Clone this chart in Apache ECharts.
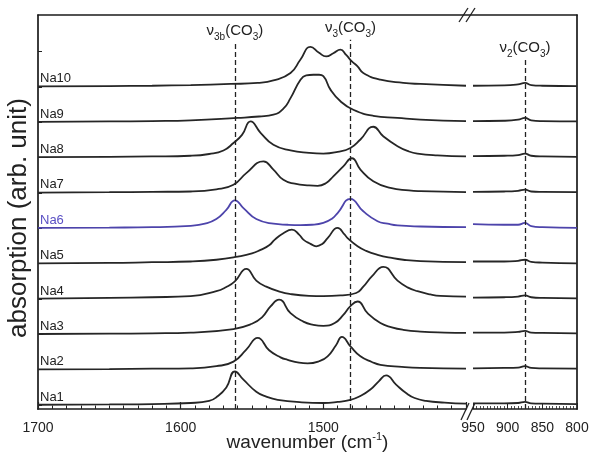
<!DOCTYPE html>
<html>
<head>
    <meta charset="UTF-8">
    <title>CO3 bands Na1-Na10</title>
    <script src="https://cdn.jsdelivr.net/npm/echarts@6.0.0/dist/echarts.min.js"></script>
</head>
<body style="margin:0;background:#fff;">
    <div id="main" style="width:592px;height:462px;"></div>
</body>
<script>
// sample names, bottom to top
var names = ['Na1','Na2','Na3','Na4','Na5','Na6','Na7','Na8','Na9','Na10'];

// left part of the axis: [wavenumber, absorption above its own baseline]
var na1 = [[1700,0.01],[1650,0.02],[1620,0.03],[1593,0.06],[1580,0.12],[1575,0.22],[1568,0.5],[1562,0.95],[1556,0.72],[1547,0.38],[1540,0.24],[1532,0.15],[1515,0.08],[1500,0.06],[1490,0.09],[1481,0.15],[1474,0.26],[1467,0.44],[1461,0.68],[1456,0.84],[1449,0.58],[1442,0.34],[1436,0.2],[1428,0.12],[1415,0.07],[1400,0.04]];
var na2 = [[1700,0.01],[1650,0.02],[1620,0.03],[1593,0.04],[1575,0.1],[1563,0.23],[1554,0.57],[1546,0.9],[1538,0.55],[1530,0.35],[1525,0.28],[1517,0.2],[1511,0.18],[1503,0.24],[1497,0.38],[1491,0.7],[1487,0.93],[1481,0.66],[1474,0.38],[1466,0.22],[1460,0.14],[1445,0.08],[1432,0.05],[1400,0.03]];
var na3 = [[1700,0.01],[1650,0.02],[1620,0.03],[1593,0.05],[1563,0.15],[1550,0.3],[1543,0.48],[1537,0.79],[1531,0.98],[1523,0.6],[1514,0.36],[1507,0.27],[1500,0.24],[1492,0.32],[1486,0.55],[1481,0.8],[1476,0.93],[1469,0.6],[1460,0.32],[1452,0.2],[1444,0.13],[1432,0.08],[1415,0.05],[1400,0.04]];
var na4 = [[1700,0.01],[1650,0.03],[1620,0.05],[1593,0.08],[1575,0.22],[1568,0.34],[1562,0.5],[1554,0.85],[1547,0.52],[1540,0.35],[1530,0.2],[1523,0.14],[1510,0.09],[1500,0.08],[1488,0.1],[1477,0.17],[1472,0.35],[1466,0.64],[1458,0.91],[1448,0.52],[1441,0.33],[1434,0.22],[1425,0.13],[1418,0.09],[1400,0.07]];
var na5 = [[1700,0.01],[1650,0.02],[1620,0.04],[1593,0.06],[1575,0.11],[1560,0.2],[1550,0.29],[1544,0.39],[1538,0.52],[1534,0.68],[1528,0.86],[1522,0.96],[1517,0.82],[1514,0.68],[1509,0.56],[1505,0.49],[1501,0.55],[1497,0.72],[1490,1.01],[1485,0.82],[1483,0.72],[1476,0.49],[1470,0.36],[1462,0.25],[1452,0.16],[1444,0.11],[1432,0.07],[1400,0.04]];
var na6 = [[1700,0.01],[1650,0.02],[1620,0.03],[1593,0.07],[1583,0.13],[1575,0.26],[1568,0.52],[1562,0.79],[1556,0.57],[1547,0.26],[1535,0.13],[1525,0.1],[1516,0.09],[1508,0.1],[1500,0.15],[1494,0.27],[1490,0.43],[1481,0.83],[1472,0.48],[1462,0.2],[1455,0.13],[1448,0.08],[1432,0.05],[1400,0.03]];
var na7 = [[1700,0.01],[1650,0.02],[1620,0.03],[1593,0.04],[1575,0.1],[1563,0.23],[1554,0.56],[1542,0.89],[1535,0.66],[1528,0.37],[1520,0.26],[1510,0.21],[1504,0.2],[1498,0.28],[1493,0.47],[1486,0.75],[1480,0.98],[1474,0.66],[1465,0.33],[1453,0.14],[1440,0.07],[1432,0.05],[1400,0.02]];
var na8 = [[1700,0.01],[1650,0.02],[1620,0.03],[1593,0.05],[1580,0.1],[1570,0.2],[1563,0.41],[1557,0.64],[1551,1.02],[1544,0.7],[1535,0.36],[1523,0.2],[1510,0.13],[1500,0.11],[1490,0.16],[1481,0.27],[1474,0.51],[1465,0.87],[1458,0.6],[1448,0.32],[1440,0.17],[1434,0.11],[1420,0.06],[1400,0.03]];
var na9 = [[1700,0.01],[1650,0.02],[1620,0.03],[1593,0.05],[1560,0.12],[1545,0.16],[1535,0.21],[1528,0.38],[1523,0.68],[1516,1.2],[1512,1.32],[1507,1.34],[1503,1.34],[1500,1.3],[1495,0.92],[1488,0.59],[1479,0.35],[1465,0.18],[1448,0.12],[1432,0.07],[1400,0.03]];
var na10 = [[1700,0.01],[1650,0.02],[1620,0.03],[1593,0.05],[1565,0.08],[1546,0.11],[1535,0.18],[1523,0.39],[1516,0.77],[1509,1.13],[1503,0.96],[1498,0.86],[1493,0.95],[1488,1.05],[1484,0.9],[1480,0.72],[1476,0.58],[1472,0.39],[1460,0.2],[1444,0.11],[1432,0.08],[1400,0.03]];

// right part of the axis (950-800), nu2 region
var na1R = [[950,0.05],[905,0.05],[885,0.06],[875,0.09],[866,0.05],[850,0.04],[800,0.03]];
var na2R = [[950,0.04],[905,0.05],[885,0.06],[875,0.1],[866,0.05],[850,0.04],[800,0.03]];
var na3R = [[950,0.05],[905,0.05],[885,0.07],[875,0.1],[866,0.05],[850,0.04],[800,0.03]];
var na4R = [[950,0.04],[905,0.05],[885,0.07],[875,0.1],[866,0.05],[850,0.03],[800,0.02]];
var na5R = [[950,0.06],[905,0.06],[885,0.08],[875,0.11],[866,0.05],[850,0.03],[800,0.01]];
var na6R = [[950,0.12],[905,0.1],[885,0.1],[875,0.15],[866,0.06],[850,0.03],[800,0.01]];
var na7R = [[950,0.03],[905,0.04],[885,0.06],[875,0.09],[866,0.04],[850,0.03],[800,0.02]];
var na8R = [[950,0.04],[905,0.05],[885,0.07],[875,0.11],[866,0.05],[850,0.03],[800,0.02]];
var na9R = [[950,0.03],[905,0.04],[885,0.07],[875,0.12],[866,0.05],[850,0.03],[800,0.02]];
var na10R = [[950,0.03],[905,0.04],[885,0.07],[875,0.11],[866,0.05],[850,0.03],[800,0.02]];

// band positions for the dashed lines
var bandPos = [1562, 1481, 875];

var leftData = [na1,na2,na3,na4,na5,na6,na7,na8,na9,na10];
var rightData = [na1R,na2R,na3R,na4R,na5R,na6R,na7R,na8R,na9R,na10R];

var FONT = 'Liberation Sans';
var INK = '#222';
var BLUE = '#4d44ab';
var yMin = -0.11, yMax = 11.03;

var chart = echarts.init(document.getElementById('main'));

function shifted(pts, k) {
    return pts.map(function (p) { return [p[0], p[1] + k]; });
}

var bandLabel = function (sub) {
    return '{n|\u03bd}{s|' + sub + '}{n|(CO}{s|3}{n|)}';
};
var bandRich = {
    n: {fontSize: 15, fontFamily: FONT, color: INK, lineHeight: 22},
    s: {fontSize: 10, fontFamily: FONT, color: INK, verticalAlign: 'bottom'}
};
var dashStyle = {type: [5, 3], color: INK, width: 1.3};

var series = [];
for (var i = 0; i < names.length; i++) {
    var col = names[i] === 'Na6' ? BLUE : '#262626';
    var left = {
        name: names[i],
        type: 'line',
        xAxisIndex: 0, yAxisIndex: 0,
        data: shifted(leftData[i], i),
        smooth: 0.5,
        showSymbol: false,
        lineStyle: {color: col, width: 1.8},
        silent: true,
        markPoint: {
            symbol: 'circle', symbolSize: 0, silent: true,
            data: [{
                coord: [1700, i],
                label: {
                    show: true, position: 'right', distance: 0, offset: [2, -8],
                    formatter: names[i], fontSize: 13, fontFamily: FONT,
                    color: names[i] === 'Na6' ? '#5a50c4' : INK
                }
            }]
        }
    };
    var right = {
        name: names[i] + 'R',
        type: 'line',
        xAxisIndex: 1, yAxisIndex: 1,
        data: shifted(rightData[i], i),
        smooth: 0.5,
        showSymbol: false,
        lineStyle: {color: col, width: 1.8},
        silent: true
    };
    if (i === 0) {
        left.markLine = {
            silent: true, symbol: 'none', lineStyle: dashStyle,
            label: {show: true, position: 'end', distance: 1, rich: bandRich},
            data: [
                [{coord: [bandPos[0], yMin], label: {formatter: bandLabel('3b')}}, {coord: [bandPos[0], 10.24]}],
                [{coord: [bandPos[1], yMin], label: {formatter: bandLabel('3')}}, {coord: [bandPos[1], 10.33]}]
            ]
        };
        right.markLine = {
            silent: true, symbol: 'none', lineStyle: dashStyle,
            label: {show: true, position: 'end', distance: 1, rich: bandRich},
            data: [
                [{coord: [bandPos[2], yMin], label: {formatter: bandLabel('2')}}, {coord: [bandPos[2], 9.76]}]
            ]
        };
    }
    series.push(left, right);
}

var axisLineStyle = {color: '#1a1a1a', width: 1.7};
var tickLabel = {
    fontSize: 14, fontFamily: FONT, color: INK, margin: 12,
    formatter: function (v) { return String(v); }
};

chart.setOption({
    animation: false,
    backgroundColor: '#fff',
    grid: [
        {left: 38, width: 428, top: 15, bottom: 53, containLabel: false, outerBoundsMode: 'none'},
        {left: 473, width: 104, top: 15, bottom: 53, containLabel: false, outerBoundsMode: 'none'},
        {left: 38, width: 539, top: 15, bottom: 53, containLabel: false, outerBoundsMode: 'none'}
    ],
    xAxis: [
        {
            gridIndex: 0, type: 'value', inverse: true, min: 1400, max: 1700, interval: 100,
            axisLine: {onZero: false, lineStyle: axisLineStyle},
            axisTick: {inside: true, length: 7, lineStyle: {color: INK, width: 1.2}},
            minorTick: {show: true, splitNumber: 10, length: 3.5, lineStyle: {color: INK, width: 1}},
            axisLabel: Object.assign({showMinLabel: false}, tickLabel),
            splitLine: {show: false}
        },
        {
            gridIndex: 1, type: 'value', inverse: true, min: 800, max: 950, interval: 50,
            axisLine: {onZero: false, lineStyle: axisLineStyle},
            axisTick: {inside: true, length: 6, lineStyle: {color: INK, width: 1}},
            minorTick: {show: true, splitNumber: 10, length: 3, lineStyle: {color: INK, width: 0.8}},
            axisLabel: tickLabel,
            splitLine: {show: false}
        },
        {
            gridIndex: 2, type: 'value', position: 'top', min: 0, max: 1,
            axisLine: {onZero: false, lineStyle: axisLineStyle},
            axisTick: {show: false}, axisLabel: {show: false}, splitLine: {show: false}
        },
        {
            gridIndex: 2, type: 'value', position: 'bottom', min: 0, max: 1,
            axisLine: {show: false, onZero: false}, axisTick: {show: false}, axisLabel: {show: false}, splitLine: {show: false},
            name: '{a|wavenumber (cm}{p|-1}{a|)}',
            nameLocation: 'middle', nameGap: 22,
            nameTextStyle: {
                rich: {
                    a: {fontSize: 19, fontFamily: FONT, color: INK, lineHeight: 24},
                    p: {fontSize: 11, fontFamily: FONT, color: INK, verticalAlign: 'top'}
                }
            }
        }
    ],
    yAxis: [
        {
            gridIndex: 0, type: 'value', min: yMin, max: yMax,
            axisLine: {show: true, onZero: false, lineStyle: axisLineStyle},
            axisTick: {show: true, inside: true, length: 4, customValues: [0,1,2,3,4,5,6,7,8,9,10], lineStyle: {color: INK}},
            axisLabel: {show: false}, splitLine: {show: false}
        },
        {
            gridIndex: 1, type: 'value', position: 'right', min: yMin, max: yMax,
            axisLine: {show: true, onZero: false, lineStyle: axisLineStyle},
            axisTick: {show: false}, axisLabel: {show: false}, splitLine: {show: false}
        },
        {
            gridIndex: 2, type: 'value', min: 0, max: 1,
            axisLine: {show: false, onZero: false}, axisTick: {show: false}, axisLabel: {show: false}, splitLine: {show: false},
            name: 'absorption (arb. unit)',
            nameLocation: 'middle', nameGap: 6,
            nameTextStyle: {fontSize: 26, fontFamily: FONT, color: INK, padding: [0, 12, 0, 0]}
        }
    ],
    // axis break marks
    graphic: [
        {type: 'line', shape: {x1: 459, y1: 22, x2: 468, y2: 8}, style: {stroke: INK, lineWidth: 1.3}},
        {type: 'line', shape: {x1: 466, y1: 22, x2: 475, y2: 8}, style: {stroke: INK, lineWidth: 1.3}},
        {type: 'line', shape: {x1: 461, y1: 420, x2: 469, y2: 403}, style: {stroke: INK, lineWidth: 1.3}},
        {type: 'line', shape: {x1: 467, y1: 420, x2: 475, y2: 403}, style: {stroke: INK, lineWidth: 1.3}}
    ],
    series: series
});
</script>
</html>
